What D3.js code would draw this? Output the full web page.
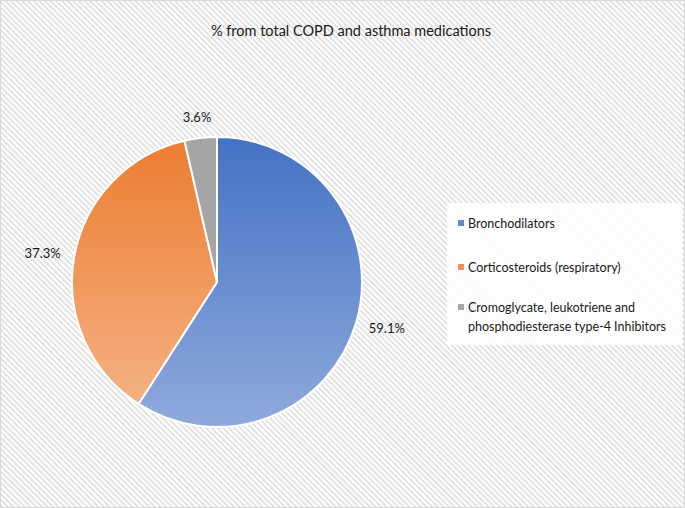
<!DOCTYPE html>
<html><head><meta charset="utf-8">
<script src="https://cdn.jsdelivr.net/npm/d3@7"></script>
<style>body{margin:0;background:#fff}svg{display:block}</style>
</head><body>
<script>
const categories = ["Bronchodilators","Corticosteroids (respiratory)","Cromoglycate, leukotriene and phosphodiesterase type-4 Inhibitors"];
const legendLines = [["Bronchodilators"],["Corticosteroids (respiratory)"],["Cromoglycate, leukotriene and","phosphodiesterase type-4 Inhibitors"]];
const values = [59.1, 37.3, 3.6];
const labels = ["59.1%","37.3%","3.6%"];
const title = "% from total COPD and asthma medications";

const W=685,H=508;
const colorsTop = ["#4472C4","#ED7D31","#A5A5A5"];
const colorsBot = ["#8FAADC","#F4B183","#A5A5A5"];
const font = "Lato, 'Open Sans', sans-serif";

const svg=d3.select("body").append("svg").attr("width",W).attr("height",H);
const defs=svg.append("defs");
const pat=defs.append("pattern").attr("id","hatch").attr("patternUnits","userSpaceOnUse")
  .attr("width",4).attr("height",4).attr("patternTransform","rotate(45)");
pat.append("rect").attr("width",4).attr("height",4).attr("fill","#fff");
pat.append("rect").attr("y",0).attr("width",4).attr("height",1.6).attr("fill","#dcdcdc");

values.forEach((v,i)=>{
  const g=defs.append("linearGradient").attr("id","g"+i).attr("x1",0).attr("y1",0).attr("x2",0).attr("y2",1);
  g.append("stop").attr("offset","0%").attr("stop-color",colorsTop[i]);
  g.append("stop").attr("offset","100%").attr("stop-color",colorsBot[i]);
});

svg.append("rect").attr("x",0.5).attr("y",0.5).attr("width",W-1).attr("height",H-1)
  .attr("fill","url(#hatch)").attr("stroke","#d9d9d9");

svg.append("text").attr("x",351).attr("y",36).attr("text-anchor","middle")
  .attr("font-family",font).attr("font-size",14.5).attr("fill","#1a1a1a").text(title);

const cx=217,cy=282,r=145;
const pie=d3.pie().sort(null).value(d=>d)(values);
const arc=d3.arc().innerRadius(0).outerRadius(r);
const g=svg.append("g").attr("transform",`translate(${cx},${cy})`);
g.selectAll("path").data(pie).join("path").attr("d",arc)
  .attr("fill",(d,i)=>`url(#g${i})`).attr("stroke","#fff").attr("stroke-width",2);

// outside-end labels: anchor on a circle, then push the text box outward
const R=r+14, lw=36, lh=14;
g.selectAll("text.lbl").data(pie).join("text").attr("class","lbl")
  .attr("transform",d=>{
    const a=(d.startAngle+d.endAngle)/2;
    const dx=Math.sin(a), dy=-Math.cos(a);
    const x=dx*R+dx*lw/2, y=dy*R+dy*lh/2;
    return `translate(${x},${y})`;
  })
  .attr("text-anchor","middle").attr("dy","0.35em")
  .attr("font-family",font).attr("font-size",13).attr("fill","#1a1a1a")
  .text((d,i)=>labels[i]);

const lg=svg.append("g");
lg.append("rect").attr("x",447).attr("y",203).attr("width",235).attr("height",142).attr("fill","#fff").attr("opacity",0.85);
const ly=[224,268,308];
legendLines.forEach((lines,i)=>{
  lg.append("rect").attr("x",458).attr("y",ly[i]-4).attr("width",6).attr("height",6).attr("fill",colorsTop[i]===colorsBot[i]?"#A5A5A5":d3.interpolateRgb(colorsTop[i],colorsBot[i])(0.4));
  lines.forEach((t,j)=>{
    lg.append("text").attr("x",468).attr("y",ly[i]+j*19).attr("dy","0.35em")
      .attr("font-family",font).attr("font-size",12.5).attr("fill","#1a1a1a").text(t);
  });
});
</script>
</body></html>
